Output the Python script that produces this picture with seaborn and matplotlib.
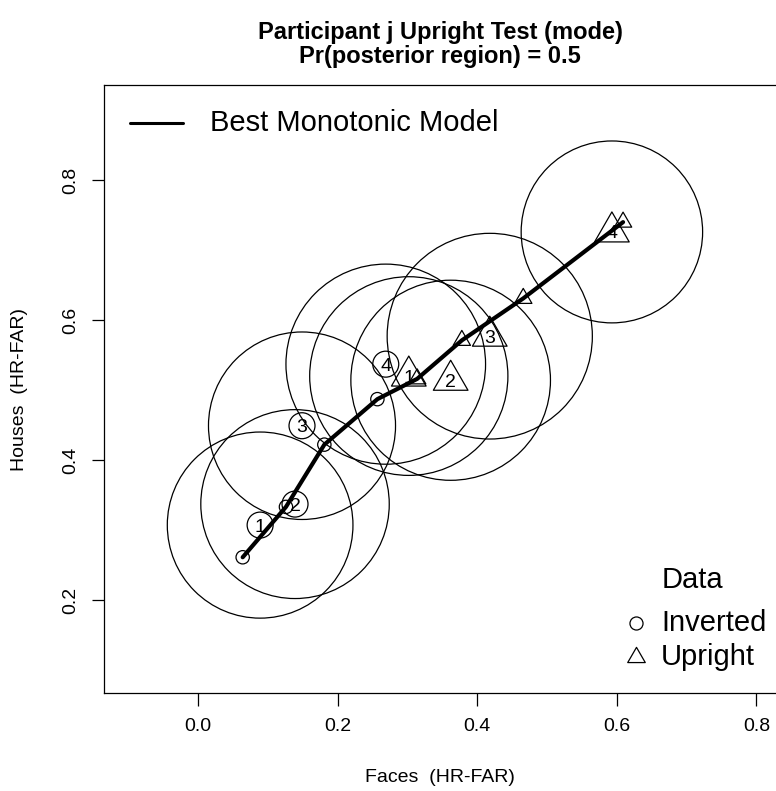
import numpy as np
import pandas as pd
import seaborn as sns
import matplotlib
matplotlib.use("Agg")
import matplotlib.pyplot as plt
from matplotlib.path import Path
from matplotlib.patches import Circle
from matplotlib.lines import Line2D

# ---------------- data ----------------
labels = ["1", "2", "3", "4"]
inv_x = [0.089, 0.139, 0.149, 0.269]
inv_y = [0.307, 0.337, 0.449, 0.537]
inv_r = [0.133, 0.135, 0.134, 0.143]
up_x = [0.302, 0.362, 0.418, 0.593]
up_y = [0.520, 0.514, 0.577, 0.726]
up_r = [0.142, 0.143, 0.147, 0.130]
inv_model_x = [0.064, 0.126, 0.181, 0.257]
inv_model_y = [0.261, 0.333, 0.422, 0.487]
up_model_x = [0.314, 0.378, 0.466, 0.609]
up_model_y = [0.516, 0.571, 0.631, 0.740]
x_ticks = [0.0, 0.2, 0.4, 0.6, 0.8]
y_ticks = [0.2, 0.4, 0.6, 0.8]
tick_labels_x = ["0.0", "0.2", "0.4", "0.6", "0.8"]
tick_labels_y = ["0.2", "0.4", "0.6", "0.8"]
title1 = "Participant j Upright Test (mode)"
title2 = "Pr(posterior region) = 0.5"
xlabel = "Faces  (HR-FAR)"
ylabel = "Houses  (HR-FAR)"

# ---------------- style ----------------
sns.set_style("ticks")
plt.rcParams["font.family"] = ["Liberation Sans", "DejaVu Sans"]
plt.rcParams["text.color"] = "black"
plt.rcParams["axes.labelcolor"] = "black"
plt.rcParams["xtick.color"] = "black"
plt.rcParams["ytick.color"] = "black"
plt.rcParams["axes.edgecolor"] = "black"

W, H = 776, 791
fig = plt.figure(figsize=(W / 100, H / 100), dpi=100)
ax = fig.add_axes([104 / W, 1 - 693 / H, (778 - 104) / W, (693 - 85) / H])
ax.set_xlim(-0.1347, 0.831)
ax.set_ylim(0.067, 0.936)

def px(x, y):
    return (x / W, 1 - y / H)

# triangle marker centred on its circumcentre (like R pch=2)
tri = Path([(0, 1), (-0.8660, -0.5), (0.8660, -0.5), (0, 1)],
           [Path.MOVETO, Path.LINETO, Path.LINETO, Path.CLOSEPOLY])

# posterior-region circles
for xs, ys, rs in ((inv_x, inv_y, inv_r), (up_x, up_y, up_r)):
    for x, y, r in zip(xs, ys, rs):
        ax.add_patch(Circle((x, y), r, fill=False, ec="black", lw=0.9))

# best monotonic model line
model = pd.DataFrame({"x": inv_model_x + up_model_x,
                      "y": inv_model_y + up_model_y})
sns.lineplot(data=model, x="x", y="y", sort=True, estimator=None,
             color="black", lw=3.0, ax=ax, solid_capstyle="round")

# model points
sns.scatterplot(x=inv_model_x, y=inv_model_y, marker="o", s=9.6 ** 2,
                color="none", edgecolor="black", linewidth=0.9, ax=ax, zorder=3)
sns.scatterplot(x=up_model_x, y=up_model_y, marker=tri, s=14.4 ** 2,
                color="none", edgecolor="black", linewidth=0.9, ax=ax, zorder=3)

# data points (large) with labels
sns.scatterplot(x=inv_x, y=inv_y, marker="o", s=18.7 ** 2,
                color="none", edgecolor="black", linewidth=0.9, ax=ax, zorder=3)
sns.scatterplot(x=up_x, y=up_y, marker=tri, s=28.8 ** 2,
                color="none", edgecolor="black", linewidth=0.9, ax=ax, zorder=3)
for xs, ys in ((inv_x, inv_y), (up_x, up_y)):
    for x, y, lab in zip(xs, ys, labels):
        ax.text(x, y, lab, ha="center", va="center_baseline", fontsize=14,
                color="black", zorder=4)

ax.set_xlabel("")
ax.set_ylabel("")

# axes / ticks
for s in ax.spines.values():
    s.set_linewidth(0.9)
    s.set_color("black")
ax.set_xticks(x_ticks, tick_labels_x)
ax.set_yticks(y_ticks, tick_labels_y)
ax.tick_params(axis="both", direction="out", length=9, width=0.9,
               labelsize=14, pad=9, color="black", labelcolor="black")
for t in ax.get_yticklabels():
    t.set_rotation(90)
    t.set_va("center")

# titles / labels
fig.text(*px(440, 33), title1, ha="center", va="center", fontsize=17,
         fontweight="bold", color="black")
fig.text(*px(440, 56), title2, ha="center", va="center", fontsize=17,
         fontweight="bold", color="black")
fig.text(*px(440, 777), xlabel, ha="center", va="center", fontsize=14, color="black")
fig.text(*px(20, 389), ylabel, ha="center", va="center", fontsize=14,
         rotation=90, color="black")

# legend: model line
fig.add_artist(Line2D([130 / W, 183 / W], [1 - 123 / H, 1 - 123 / H],
                      color="black", lw=2.2, transform=fig.transFigure))
fig.text(*px(210, 123), "Best Monotonic Model", ha="left", va="center",
         fontsize=21, color="black")

# legend: data
fig.text(*px(692, 580), "Data", ha="center", va="center", fontsize=21, color="black")
fig.add_artist(Line2D([636 / W], [1 - 623 / H], marker="o", ms=9.4, mfc="none",
                      mec="black", mew=0.9, ls="none", transform=fig.transFigure))
fig.add_artist(Line2D([636 / W], [1 - 657 / H], marker=tri, ms=14.6, mfc="none",
                      mec="black", mew=0.9, ls="none", transform=fig.transFigure))
fig.text(*px(661, 623), "Inverted", ha="left", va="center", fontsize=21, color="black")
fig.text(*px(661, 657), "Upright", ha="left", va="center", fontsize=21, color="black")

fig.savefig("out.png", dpi=100, facecolor="white")
